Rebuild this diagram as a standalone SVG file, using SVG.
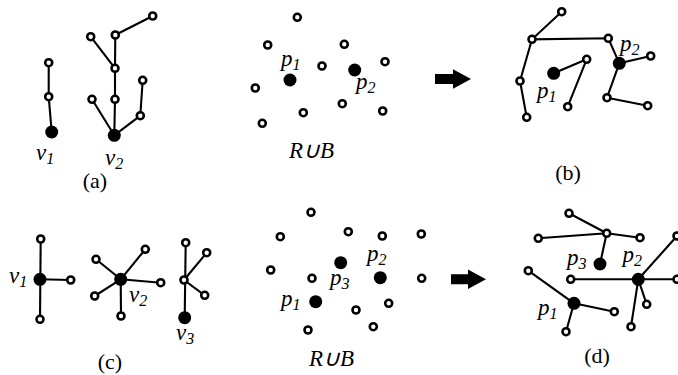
<svg xmlns="http://www.w3.org/2000/svg" width="678" height="375" viewBox="0 0 678 375">
<style>
.e{stroke:#000;stroke-width:2.1;fill:none}
.o{fill:#fff;stroke:#000;stroke-width:2.6}
.f{fill:#000}
.t{font-family:"Liberation Serif",serif;font-size:22px;fill:#000}
.i{font-family:"Liberation Serif",serif;font-size:23px;font-style:italic;fill:#000}
.s{font-size:16px}
</style>
<rect width="678" height="375" fill="#fff"/>
<g id="connectors">
<polyline class="e" points="48.7,62.7 48.7,96.7 51.7,132"/>
<polyline class="e" points="114.3,135.3 115,99.3 115,68.3 115.3,35 152.7,16"/>
<line class="e" x1="115" y1="68.3" x2="90.7" y2="36.7"/>
<line class="e" x1="114.3" y1="135.3" x2="92" y2="99.3"/>
<polyline class="e" points="114.3,135.3 140.3,115.7 142.7,80.3"/>
<polyline class="e" points="561.7,11.7 532,39.3 608.3,38.3 619.3,63.3 650.7,56"/>
<polyline class="e" points="532,39.3 520,81 526.7,117.3"/>
<polyline class="e" points="553.7,73.3 586.7,59.3 567.7,106.7"/>
<polyline class="e" points="619.3,63.3 607,97.7 647.7,105.7"/>
<line class="e" x1="40.7" y1="239" x2="40" y2="319.3"/>
<line class="e" x1="40" y1="279.3" x2="70.7" y2="280"/>
<line class="e" x1="120.7" y1="279.3" x2="96" y2="259.3"/>
<line class="e" x1="120.7" y1="279.3" x2="145.3" y2="249.3"/>
<line class="e" x1="120.7" y1="279.3" x2="160.7" y2="282.7"/>
<line class="e" x1="120.7" y1="279.3" x2="94.7" y2="296"/>
<line class="e" x1="120.7" y1="279.3" x2="121" y2="316"/>
<line class="e" x1="185.7" y1="242.7" x2="184.7" y2="317.7"/>
<line class="e" x1="184" y1="280" x2="206.7" y2="252.7"/>
<line class="e" x1="184" y1="280" x2="204.7" y2="295.3"/>
<line class="e" x1="569" y1="213.3" x2="606.7" y2="233.3"/>
<line class="e" x1="538.3" y1="238.3" x2="606.7" y2="233.3"/>
<line class="e" x1="606.7" y1="233.3" x2="640" y2="237.7"/>
<line class="e" x1="606.7" y1="233.3" x2="600" y2="264"/>
<line class="e" x1="528.3" y1="270.7" x2="574" y2="303.3"/>
<line class="e" x1="574" y1="303.3" x2="614.3" y2="311.7"/>
<line class="e" x1="574" y1="303.3" x2="566" y2="331.7"/>
<line class="e" x1="570.7" y1="279.3" x2="677" y2="279.3"/>
<line class="e" x1="638.3" y1="279.3" x2="677" y2="236"/>
<line class="e" x1="638.3" y1="279.3" x2="646.7" y2="304.3"/>
<line class="e" x1="638.3" y1="279.3" x2="631" y2="326.7"/>
<polygon class="f" points="435,74 453,74 453,69.3 471,79 453,88.7 453,84 435,84"/>
<polygon class="f" points="451,274.3 468,274.3 468,269.5 486,279.3 468,289.1 468,284.3 451,284.3"/>
</g>
<g id="a_v1"><circle class="f" cx="51.7" cy="132" r="6.5"/></g>
<g id="a_n1"><circle class="o" cx="48.7" cy="62.7" r="3.5"/></g>
<g id="a_n2"><circle class="o" cx="48.7" cy="96.7" r="3.5"/></g>
<g id="a_v2"><circle class="f" cx="114.3" cy="135.3" r="6.5"/></g>
<g id="a_n3"><circle class="o" cx="115" cy="99.3" r="3.5"/></g>
<g id="a_n4"><circle class="o" cx="115" cy="68.3" r="3.5"/></g>
<g id="a_n5"><circle class="o" cx="115.3" cy="35" r="3.5"/></g>
<g id="a_n6"><circle class="o" cx="152.7" cy="16" r="3.5"/></g>
<g id="a_n7"><circle class="o" cx="90.7" cy="36.7" r="3.5"/></g>
<g id="a_n8"><circle class="o" cx="92" cy="99.3" r="3.5"/></g>
<g id="a_n9"><circle class="o" cx="140.3" cy="115.7" r="3.5"/></g>
<g id="a_n10"><circle class="o" cx="142.7" cy="80.3" r="3.5"/></g>
<g id="m_n1"><circle class="o" cx="297.3" cy="17.3" r="3.5"/></g>
<g id="m_n2"><circle class="o" cx="267.7" cy="45" r="3.5"/></g>
<g id="m_n3"><circle class="o" cx="344.3" cy="44.3" r="3.5"/></g>
<g id="m_n4"><circle class="o" cx="322" cy="66" r="3.5"/></g>
<g id="m_p1"><circle class="f" cx="290" cy="80" r="6.5"/></g>
<g id="m_p2"><circle class="f" cx="354.7" cy="70" r="6.5"/></g>
<g id="m_n5"><circle class="o" cx="255.3" cy="88" r="3.5"/></g>
<g id="m_n6"><circle class="o" cx="342.3" cy="103.7" r="3.5"/></g>
<g id="m_n7"><circle class="o" cx="303.3" cy="112.7" r="3.5"/></g>
<g id="m_n8"><circle class="o" cx="262.3" cy="123.3" r="3.5"/></g>
<g id="m_n9"><circle class="o" cx="385" cy="61.7" r="3.5"/></g>
<g id="m_n10"><circle class="o" cx="382.7" cy="111" r="3.5"/></g>
<g id="b_n1"><circle class="o" cx="561.7" cy="11.7" r="3.5"/></g>
<g id="b_n2"><circle class="o" cx="532" cy="39.3" r="3.5"/></g>
<g id="b_n3"><circle class="o" cx="608.3" cy="38.3" r="3.5"/></g>
<g id="b_n4"><circle class="o" cx="520" cy="81" r="3.5"/></g>
<g id="b_n5"><circle class="o" cx="526.7" cy="117.3" r="3.5"/></g>
<g id="b_p1"><circle class="f" cx="553.7" cy="73.3" r="6.5"/></g>
<g id="b_n6"><circle class="o" cx="586.7" cy="59.3" r="3.5"/></g>
<g id="b_n7"><circle class="o" cx="567.7" cy="106.7" r="3.5"/></g>
<g id="b_p2"><circle class="f" cx="619.3" cy="63.3" r="6.5"/></g>
<g id="b_n8"><circle class="o" cx="650.7" cy="56" r="3.5"/></g>
<g id="b_n9"><circle class="o" cx="607" cy="97.7" r="3.5"/></g>
<g id="b_n10"><circle class="o" cx="647.7" cy="105.7" r="3.5"/></g>
<g id="c_v1"><circle class="f" cx="40" cy="279.3" r="6.5"/></g>
<g id="c_n1"><circle class="o" cx="40.7" cy="239" r="3.5"/></g>
<g id="c_n2"><circle class="o" cx="70.7" cy="280" r="3.5"/></g>
<g id="c_n3"><circle class="o" cx="40" cy="319.3" r="3.5"/></g>
<g id="c_v2"><circle class="f" cx="120.7" cy="279.3" r="6.5"/></g>
<g id="c_n4"><circle class="o" cx="96" cy="259.3" r="3.5"/></g>
<g id="c_n5"><circle class="o" cx="145.3" cy="249.3" r="3.5"/></g>
<g id="c_n6"><circle class="o" cx="160.7" cy="282.7" r="3.5"/></g>
<g id="c_n7"><circle class="o" cx="94.7" cy="296" r="3.5"/></g>
<g id="c_n8"><circle class="o" cx="121" cy="316" r="3.5"/></g>
<g id="c_n9"><circle class="o" cx="184" cy="280" r="3.5"/></g>
<g id="c_n10"><circle class="o" cx="185.7" cy="242.7" r="3.5"/></g>
<g id="c_n11"><circle class="o" cx="206.7" cy="252.7" r="3.5"/></g>
<g id="c_n12"><circle class="o" cx="204.7" cy="295.3" r="3.5"/></g>
<g id="c_v3"><circle class="f" cx="184.7" cy="317.7" r="6.5"/></g>
<g id="n_n1"><circle class="o" cx="311" cy="212.3" r="3.5"/></g>
<g id="n_n2"><circle class="o" cx="280.3" cy="236.7" r="3.5"/></g>
<g id="n_n3"><circle class="o" cx="348.3" cy="231.7" r="3.5"/></g>
<g id="n_n4"><circle class="o" cx="382.3" cy="236" r="3.5"/></g>
<g id="n_n5"><circle class="o" cx="421.3" cy="234" r="3.5"/></g>
<g id="n_n6"><circle class="o" cx="270.7" cy="270" r="3.5"/></g>
<g id="n_n7"><circle class="o" cx="312" cy="278.3" r="3.5"/></g>
<g id="n_p3"><circle class="f" cx="340.7" cy="262.7" r="6.5"/></g>
<g id="n_p2"><circle class="f" cx="380.3" cy="277.7" r="6.5"/></g>
<g id="n_n8"><circle class="o" cx="421.7" cy="278.3" r="3.5"/></g>
<g id="n_p1"><circle class="f" cx="315.7" cy="301.7" r="6.5"/></g>
<g id="n_n9"><circle class="o" cx="356" cy="310" r="3.5"/></g>
<g id="n_n10"><circle class="o" cx="388.7" cy="303.3" r="3.5"/></g>
<g id="n_n11"><circle class="o" cx="308" cy="330" r="3.5"/></g>
<g id="n_n12"><circle class="o" cx="373.3" cy="326.7" r="3.5"/></g>
<g id="d_n1"><circle class="o" cx="569" cy="213.3" r="3.5"/></g>
<g id="d_n2"><circle class="o" cx="606.7" cy="233.3" r="3.5"/></g>
<g id="d_n3"><circle class="o" cx="538.3" cy="238.3" r="3.5"/></g>
<g id="d_n4"><circle class="o" cx="640" cy="237.7" r="3.5"/></g>
<g id="d_p3"><circle class="f" cx="600" cy="264" r="6.5"/></g>
<g id="d_n5"><circle class="o" cx="528.3" cy="270.7" r="3.5"/></g>
<g id="d_n6"><circle class="o" cx="570.7" cy="279.3" r="3.5"/></g>
<g id="d_p2"><circle class="f" cx="638.3" cy="279.3" r="6.5"/></g>
<g id="d_n7"><circle class="o" cx="677" cy="279.3" r="3.5"/></g>
<g id="d_n8"><circle class="o" cx="677" cy="236" r="3.5"/></g>
<g id="d_p1"><circle class="f" cx="574" cy="303.3" r="6.5"/></g>
<g id="d_n9"><circle class="o" cx="614.3" cy="311.7" r="3.5"/></g>
<g id="d_n10"><circle class="o" cx="566" cy="331.7" r="3.5"/></g>
<g id="d_n11"><circle class="o" cx="646.7" cy="304.3" r="3.5"/></g>
<g id="d_n12"><circle class="o" cx="631" cy="326.7" r="3.5"/></g>
<g id="labels">
<text class="i" x="36" y="160">v<tspan class="s" dy="4">1</tspan></text>
<text class="i" x="105" y="165">v<tspan class="s" dy="4">2</tspan></text>
<text class="t" x="95" y="188" text-anchor="middle">(a)</text>
<text class="i" x="281" y="65.5">p<tspan class="s" dy="4">1</tspan></text>
<text class="i" x="356" y="89">p<tspan class="s" dy="4">2</tspan></text>
<text class="i" x="289" y="158">R∪B</text>
<text class="i" x="620" y="51">p<tspan class="s" dy="4">2</tspan></text>
<text class="i" x="537" y="98">p<tspan class="s" dy="4">1</tspan></text>
<text class="t" x="568" y="180" text-anchor="middle">(b)</text>
<text class="i" x="9" y="283">v<tspan class="s" dy="4">1</tspan></text>
<text class="i" x="129" y="302">v<tspan class="s" dy="4">2</tspan></text>
<text class="i" x="176" y="340">v<tspan class="s" dy="4">3</tspan></text>
<text class="t" x="110" y="369" text-anchor="middle">(c)</text>
<text class="i" x="367" y="261">p<tspan class="s" dy="4">2</tspan></text>
<text class="i" x="330" y="284.5">p<tspan class="s" dy="4">3</tspan></text>
<text class="i" x="281" y="306">p<tspan class="s" dy="4">1</tspan></text>
<text class="i" x="309" y="366">R∪B</text>
<text class="i" x="567" y="265">p<tspan class="s" dy="4">3</tspan></text>
<text class="i" x="622.5" y="262">p<tspan class="s" dy="4">2</tspan></text>
<text class="i" x="538" y="315">p<tspan class="s" dy="4">1</tspan></text>
<text class="t" x="597" y="363" text-anchor="middle">(d)</text>
</g>
</svg>
